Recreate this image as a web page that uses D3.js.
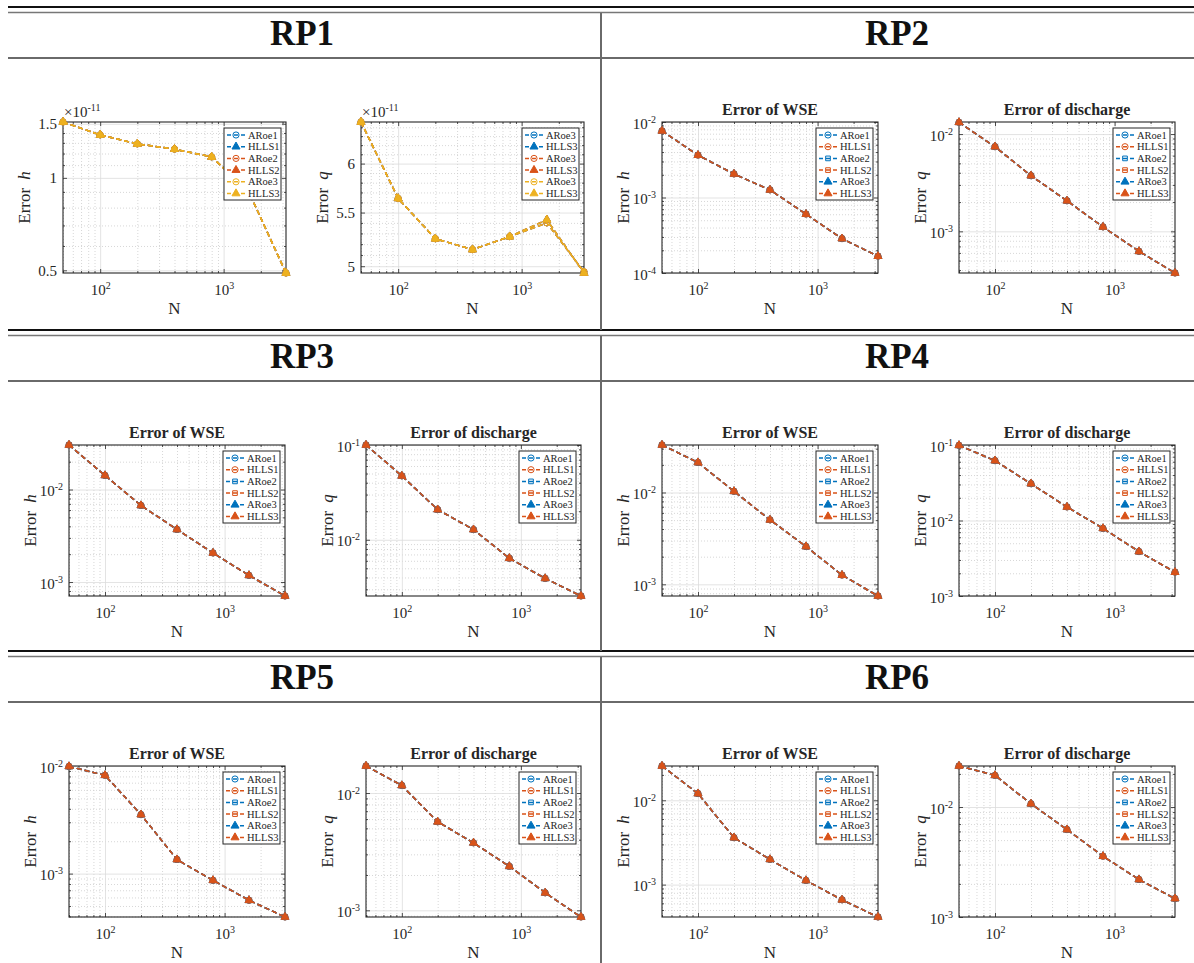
<!DOCTYPE html>
<html>
<head>
<meta charset="utf-8">
<script src="https://cdn.jsdelivr.net/npm/d3@7"></script>
<style>
  body { margin: 0; background: #fff; }
  svg { display: block; }
  text { font-family: "Liberation Serif", "Times New Roman", serif; fill: #262626; }
  .hdr { font-weight: bold; fill: #111; }
</style>
</head>
<body>
<svg id="fig" width="1194" height="963"></svg>
<script>
// ---- data ----
const N = [50, 100, 200, 400, 800, 1600, 3200];
const panelNames = ["RP1", "RP2", "RP3", "RP4", "RP5", "RP6"];
const plotTitles = ["Error of WSE", "Error of discharge"];
const errVars = ["h", "q"];

// RP1 is of order 1e-11 (tick labels are shown scaled)
const rp1H     = [1.52e-11, 1.38e-11, 1.29e-11, 1.24e-11, 1.17e-11, 0.90e-11, 0.49e-11];
const rp1QRoe  = [6.46e-11, 5.64e-11, 5.25e-11, 5.15e-11, 5.27e-11, 5.40e-11, 4.95e-11];
const rp1QHlls = [6.46e-11, 5.64e-11, 5.25e-11, 5.15e-11, 5.27e-11, 5.43e-11, 4.94e-11];

const rp2H = [7.62e-3, 3.64e-3, 2.05e-3, 1.26e-3, 6.03e-4, 2.85e-4, 1.67e-4];
const rp2Q = [1.32e-2, 7.41e-3, 3.73e-3, 2.06e-3, 1.11e-3, 6.23e-4, 3.73e-4];
const rp3H = [3.03e-2, 1.42e-2, 6.72e-3, 3.70e-3, 2.06e-3, 1.18e-3, 7.06e-4];
const rp3Q = [1.00e-1, 4.72e-2, 2.08e-2, 1.28e-2, 6.38e-3, 3.91e-3, 2.55e-3];
const rp4H = [3.29e-2, 2.12e-2, 1.03e-2, 5.03e-3, 2.58e-3, 1.26e-3, 7.46e-4];
const rp4Q = [9.90e-2, 6.20e-2, 3.07e-2, 1.51e-2, 7.86e-3, 3.87e-3, 2.07e-3];
const rp5H = [9.90e-3, 8.20e-3, 3.53e-3, 1.35e-3, 8.66e-4, 5.65e-4, 3.95e-4];
const rp5Q = [1.70e-2, 1.16e-2, 5.68e-3, 3.76e-3, 2.37e-3, 1.41e-3, 8.77e-4];
const rp6H = [2.55e-2, 1.20e-2, 3.60e-3, 1.99e-3, 1.12e-3, 6.60e-4, 4.13e-4];
const rp6Q = [2.36e-2, 1.94e-2, 1.07e-2, 6.23e-3, 3.57e-3, 2.19e-3, 1.47e-3];

// y limits per panel: [h plot, q plot]
const yLims = [
  [[0.49e-11, 1.52e-11], [4.94e-11, 6.46e-11]],
  [[1e-4, 1e-2], [3.73e-4, 1.33e-2]],
  [[7.06e-4, 3.03e-2], [2.55e-3, 1e-1]],
  [[7.46e-4, 3.29e-2], [1e-3, 1e-1]],
  [[3.95e-4, 1e-2], [8.77e-4, 1.7e-2]],
  [[4.13e-4, 2.55e-2], [1e-3, 2.36e-2]]
];

// RP1 linear-looking tick labels (units of 1e-11)
const rp1HTicks = [0.5, 1, 1.5];
const rp1HMinor = [0.6, 0.7, 0.8, 0.9, 1.1, 1.2, 1.3, 1.4];
const rp1QTicks = [5, 5.5, 6];
const rp1QMinor = [5.1, 5.2, 5.3, 5.4, 5.6, 5.7, 5.8, 5.9, 6.1, 6.2, 6.3, 6.4];

const schemeLabels = ["ARoe1", "HLLS1", "ARoe2", "HLLS2", "ARoe3", "HLLS3"];
const rp1QLabels = ["ARoe3", "HLLS3", "ARoe3", "HLLS3", "ARoe3", "HLLS3"];

// ---- styles / layout ----
const blue = "#0072BD", orange = "#D95319", yellow = "#EDB120";
const rp1Colors = [blue, blue, orange, orange, yellow, yellow];
const rp1Markers = ["circle", "triangle", "circle", "triangle", "circle", "triangle"];
const colors = [blue, orange, blue, orange, blue, orange];
const markers = ["circle", "circle", "square", "square", "triangle", "triangle"];

const rowTopLine = [7, 330, 651];
const headerLine = [58, 381, 702];
const colCenter = [302, 897];
const boxX = [
  [[63, 286], [361, 584]],
  [[662, 878], [959, 1175]],
  [[69, 285], [366, 581]],
  [[662, 878], [959, 1175]],
  [[69, 285], [366, 581]],
  [[662, 878], [959, 1175]]
];
const plotH = 151;

const svg = d3.select("#fig");

// ---- table lines ----
rowTopLine.forEach(y => {
  svg.append("line").attr("x1", 8).attr("x2", 1194).attr("y1", y).attr("y2", y)
    .attr("stroke", "#111").attr("stroke-width", 2);
  svg.append("line").attr("x1", 8).attr("x2", 1194).attr("y1", y + 5.5).attr("y2", y + 5.5)
    .attr("stroke", "#777").attr("stroke-width", 1.5);
});
headerLine.forEach(y => {
  svg.append("line").attr("x1", 8).attr("x2", 1194).attr("y1", y).attr("y2", y)
    .attr("stroke", "#6a6a6a").attr("stroke-width", 2);
});
[[13, 330], [336, 651], [657, 963]].forEach(([a, b]) => {
  svg.append("line").attr("x1", 601).attr("x2", 601).attr("y1", a).attr("y2", b)
    .attr("stroke", "#6a6a6a").attr("stroke-width", 2);
});

// ---- helpers ----
function isDecade(v) {
  const l = Math.log10(v);
  return Math.abs(l - Math.round(l)) < 1e-6;
}

function powLabel(t, d) {
  t.append("tspan").text("10");
  t.append("tspan").attr("dy", -6).attr("font-size", 10).text(String(Math.round(Math.log10(d))));
}

function symbolPath(m) {
  if (m === "circle") return d3.symbol(d3.symbolCircle, 30)();
  if (m === "square") return d3.symbol(d3.symbolSquare, 22)();
  return d3.symbol(d3.symbolTriangle, 28)();
}

function drawMarker(sel, m, color) {
  sel.append("path").attr("d", symbolPath(m))
    .attr("fill", m === "triangle" ? color : "none")
    .attr("stroke", color).attr("stroke-width", 1);
}

function drawPlot(cfg) {
  const w = cfg.x1 - cfg.x0, h = plotH;
  const g = svg.append("g").attr("transform", `translate(${cfg.x0},${cfg.y0})`);
  const x = d3.scaleLog().domain([N[0], N[N.length - 1]]).range([0, w]);
  const y = d3.scaleLog().domain(cfg.yLim).range([h, 0]);

  const xt = x.ticks();
  const xMajor = xt.filter(isDecade), xMinor = xt.filter(v => !isDecade(v));
  let yMajor, yMinor;
  if (cfg.yMajor) {
    yMajor = cfg.yMajor; yMinor = cfg.yMinor;
  } else {
    const lo = cfg.yLim[0] * 0.999, hi = cfg.yLim[1] * 1.001;
    const yt = y.ticks().filter(v => v >= lo && v <= hi);
    yMajor = yt.filter(isDecade); yMinor = yt.filter(v => !isDecade(v));
  }

  const lines = (axisFn, vals, size, tx, ty, stroke, dash) => {
    const a = g.append("g").attr("transform", `translate(${tx},${ty})`)
      .call(axisFn.tickValues(vals).tickSize(size).tickFormat(""));
    a.select(".domain").remove();
    a.selectAll(".tick line").attr("stroke", stroke).attr("stroke-width", 0.8)
      .attr("stroke-dasharray", dash);
    return a;
  };

  // grid
  lines(d3.axisBottom(x), xMinor, h, 0, 0, "#cdcdcd", "1,2");
  lines(d3.axisRight(y), yMinor, w, 0, 0, "#cdcdcd", "1,2");
  lines(d3.axisBottom(x), xMajor, h, 0, 0, "#dcdcdc", null);
  lines(d3.axisRight(y), yMajor, w, 0, 0, "#dcdcdc", null);

  // box + inward ticks on all sides
  g.append("rect").attr("width", w).attr("height", h)
    .attr("fill", "none").attr("stroke", "#262626").attr("stroke-width", 1.1);
  const tk = "#262626";
  lines(d3.axisBottom(x), xMinor, -2, 0, h, tk, null);
  lines(d3.axisBottom(x), xMajor, -4, 0, h, tk, null);
  lines(d3.axisTop(x), xMinor, -2, 0, 0, tk, null);
  lines(d3.axisTop(x), xMajor, -4, 0, 0, tk, null);
  lines(d3.axisLeft(y), yMinor, -2, 0, 0, tk, null);
  lines(d3.axisLeft(y), yMajor, -4, 0, 0, tk, null);
  lines(d3.axisRight(y), yMinor, -2, w, 0, tk, null);
  lines(d3.axisRight(y), yMajor, -4, w, 0, tk, null);

  // x tick labels
  const xl = g.append("g").attr("transform", `translate(0,${h})`)
    .call(d3.axisBottom(x).tickValues(xMajor).tickSize(0).tickPadding(0));
  xl.select(".domain").remove();
  xl.attr("font-size", null).attr("font-family", null);
  xl.selectAll(".tick text").attr("y", 22).attr("dy", null).attr("font-size", 15)
    .text(null).each(function (d) { powLabel(d3.select(this), d); });

  // y tick labels
  const yl = g.append("g")
    .call(d3.axisLeft(y).tickValues(yMajor).tickSize(0).tickPadding(6));
  yl.select(".domain").remove();
  yl.attr("font-size", null).attr("font-family", null);
  yl.selectAll(".tick text").attr("dy", null).attr("font-size", 15).text(null)
    .each(function (d) {
      const t = d3.select(this);
      if (cfg.scaleExp) {
        t.attr("y", 5).text(d3.format("~g")(+(d / cfg.scale).toFixed(3)));
      } else {
        t.attr("y", 6); powLabel(t, d);
      }
    });

  if (cfg.scaleExp) {
    const t = g.append("text").attr("x", 1).attr("y", -5).attr("font-size", 15);
    t.append("tspan").text("\u00d710");
    t.append("tspan").attr("dy", -6).attr("font-size", 10).text(cfg.scaleExp);
  }

  // data
  const line = d3.line().x((d, i) => x(N[i])).y(d => y(d));
  cfg.series.forEach(s => {
    g.append("path").datum(s.values).attr("d", line)
      .attr("fill", "none").attr("stroke", s.color).attr("stroke-width", 1.5)
      .attr("stroke-dasharray", "5,3");
    s.values.forEach((v, i) => {
      const mg = g.append("g").attr("transform", `translate(${x(N[i])},${y(v)})`);
      drawMarker(mg, s.marker, s.color);
    });
  });

  // title and axis labels
  if (cfg.title) {
    g.append("text").attr("x", w / 2).attr("y", -7).attr("text-anchor", "middle")
      .attr("font-size", 16).attr("font-weight", "bold").attr("fill", "#111").text(cfg.title);
  }
  g.append("text").attr("x", w / 2).attr("y", h + 41).attr("text-anchor", "middle")
    .attr("font-size", 17).text("N");
  const yt = g.append("text").attr("text-anchor", "middle").attr("font-size", 17)
    .attr("transform", `translate(-33,${h / 2}) rotate(-90)`);
  yt.append("tspan").text("Error");
  yt.append("tspan").attr("dx", 8).attr("font-style", "italic").text(cfg.yVar);

  // legend
  const lw = 57, lh = 72, rowH = 11.7;
  const lg = g.append("g").attr("transform", `translate(${w - 5 - lw},6)`);
  lg.append("rect").attr("width", lw).attr("height", lh)
    .attr("fill", "#fff").attr("stroke", "#262626").attr("stroke-width", 1);
  cfg.series.forEach((s, i) => {
    const ry = 7 + i * rowH;
    lg.append("line").attr("x1", 3).attr("x2", 21).attr("y1", ry).attr("y2", ry)
      .attr("stroke", s.color).attr("stroke-width", 1.5).attr("stroke-dasharray", "4,3");
    drawMarker(lg.append("g").attr("transform", `translate(12,${ry})`), s.marker, s.color);
    lg.append("text").attr("x", 24).attr("y", ry + 3.5).attr("font-size", 10.5).text(s.label);
  });
}

// ---- panels ----
const hData = [rp1H, rp2H, rp3H, rp4H, rp5H, rp6H];
const qData = [null, rp2Q, rp3Q, rp4Q, rp5Q, rp6Q];

panelNames.forEach((name, p) => {
  const row = Math.floor(p / 2), col = p % 2;
  svg.append("text").attr("class", "hdr").attr("x", colCenter[col]).attr("y", rowTopLine[row] + 38)
    .attr("text-anchor", "middle").attr("font-size", 35).text(name);

  const y0 = headerLine[row] + 64;
  [0, 1].forEach(k => {
    let series;
    if (p === 0) {
      series = schemeLabels.map((lab, i) => ({
        label: k === 0 ? lab : rp1QLabels[i],
        color: rp1Colors[i],
        marker: rp1Markers[i],
        values: k === 0 ? rp1H : (rp1Markers[i] === "circle" ? rp1QRoe : rp1QHlls)
      }));
    } else {
      series = schemeLabels.map((lab, i) => ({
        label: lab, color: colors[i], marker: markers[i],
        values: k === 0 ? hData[p] : qData[p]
      }));
    }
    const cfg = {
      x0: boxX[p][k][0], x1: boxX[p][k][1], y0: y0,
      yLim: yLims[p][k], yVar: errVars[k], series: series,
      title: p === 0 ? null : plotTitles[k]
    };
    if (p === 0) {
      cfg.scale = 1e-11; cfg.scaleExp = "-11";
      cfg.yMajor = (k === 0 ? rp1HTicks : rp1QTicks).map(v => v * 1e-11);
      cfg.yMinor = (k === 0 ? rp1HMinor : rp1QMinor).map(v => v * 1e-11);
    }
    drawPlot(cfg);
  });
});
</script>
</body>
</html>
